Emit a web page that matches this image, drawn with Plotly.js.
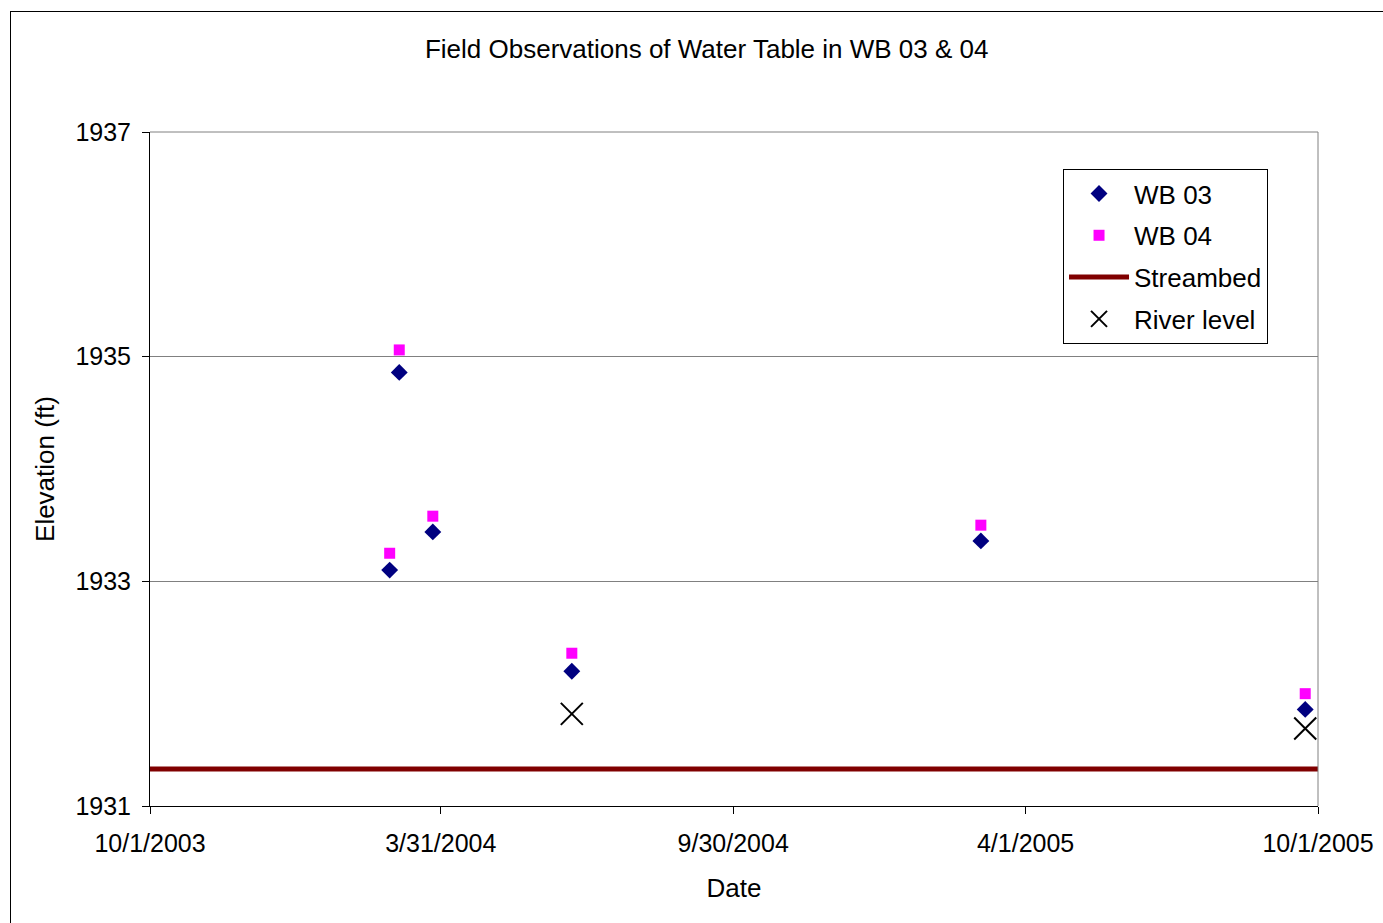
<!DOCTYPE html>
<html>
<head>
<meta charset="utf-8">
<script src="https://cdn.plot.ly/plotly-3.0.1.min.js"></script>
<style>
html,body{margin:0;padding:0;background:#fff;overflow:hidden;}
#wrap{position:relative;width:1383px;height:923px;}
#chart{width:1383px;height:923px;}
#frame{position:absolute;left:10px;top:11px;width:1400px;height:950px;border:1.5px solid #000;pointer-events:none;}
</style>
</head>
<body>
<div id="wrap"><div id="chart"></div><div id="frame"></div></div>
<script>
const wb03Dates = ['2004-02-28','2004-03-05','2004-03-26','2004-06-21','2005-03-04','2005-09-23'];
const wb03Elev  = [1933.10, 1934.86, 1933.44, 1932.20, 1933.36, 1931.86];
const wb04Dates = ['2004-02-28','2004-03-05','2004-03-26','2004-06-21','2005-03-04','2005-09-23'];
const wb04Elev  = [1933.25, 1935.06, 1933.58, 1932.36, 1933.50, 1932.00];
const streambedDates = ['2003-10-01','2005-10-01'];
const streambedElev  = [1931.33, 1931.33];
const riverDates = ['2004-06-21','2005-09-23'];
const riverElev  = [1931.82, 1931.69];
const xTickVals = ['2003-10-01','2004-03-31','2004-09-30','2005-04-01','2005-10-01'];
const xTickText = ['10/1/2003','3/31/2004','9/30/2004','4/1/2005','10/1/2005'];
const yTickVals = [1931, 1933, 1935, 1937];

const font = 'Liberation Sans, Arial, sans-serif';

const traces = [
  {x: wb03Dates, y: wb03Elev, name: 'WB 03', legendgroup: 'a', mode: 'markers', type: 'scatter',
   marker: {symbol: 'diamond', size: 13, color: '#000080'}},
  {x: wb04Dates, y: wb04Elev, name: 'WB 04', legendgroup: 'b', mode: 'markers', type: 'scatter',
   marker: {symbol: 'square', size: 11, color: '#FF00FF'}},
  {x: streambedDates, y: streambedElev, name: 'Streambed', legendgroup: 'c', mode: 'lines', type: 'scatter',
   line: {color: '#800000', width: 5}},
  {x: riverDates, y: riverElev, name: 'River level', legendgroup: 'd', mode: 'markers', type: 'scatter',
   marker: {symbol: 'x-thin-open', size: 22, color: '#000', line: {color: '#000', width: 2}}}
];

const layout = {
  width: 1383, height: 923,
  margin: {l: 150, r: 65, t: 132, b: 117},
  paper_bgcolor: '#fff', plot_bgcolor: '#fff',
  font: {family: font, size: 24, color: '#000'},
  title: {text: 'Field Observations of Water Table in WB 03 & 04', font: {family: font, size: 26, color: '#000'},
          x: 0.511, xanchor: 'center', y: 0.947, yanchor: 'middle'},
  xaxis: {
    type: 'date', range: ['2003-10-01','2005-10-01'],
    tickmode: 'array', tickvals: xTickVals, ticktext: xTickText,
    ticks: 'outside', ticklen: 7, tickcolor: '#000', tickwidth: 1,
    showline: true, linecolor: '#000', linewidth: 1, mirror: false,
    showgrid: false, zeroline: false, ticklabelstandoff: 8,
    tickfont: {family: font, size: 25, color: '#000'},
    title: {text: 'Date', font: {family: font, size: 26, color: '#000'}, standoff: 22}
  },
  yaxis: {
    range: [1931, 1937],
    tickmode: 'array', tickvals: yTickVals,
    ticks: 'outside', ticklen: 7, tickcolor: '#000', tickwidth: 1,
    showline: true, linecolor: '#000', linewidth: 1,
    showgrid: true, gridcolor: '#808080', gridwidth: 1, zeroline: false,
    ticklabelstandoff: 6,
    tickfont: {family: font, size: 25, color: '#000'},
    title: {text: 'Elevation (ft)', font: {family: font, size: 26, color: '#000'}, standoff: 13}
  },
  shapes: [
    {type: 'line', xref: 'paper', yref: 'paper', x0: 1, x1: 1, y0: 0, y1: 1, line: {color: '#808080', width: 1}},
    {type: 'line', xref: 'paper', yref: 'paper', x0: 0, x1: 1, y0: 1, y1: 1, line: {color: '#808080', width: 1}}
  ],
  legend: {
    x: 0.7817, y: 0.945, xanchor: 'left', yanchor: 'top',
    bgcolor: '#fff', bordercolor: '#000', borderwidth: 1,
    font: {family: font, size: 26, color: '#000'},
    tracegroupgap: 5, itemwidth: 60
  },
  showlegend: true
};

Plotly.newPlot('chart', traces, layout, {displayModeBar: false, staticPlot: true});
</script>
</body>
</html>
